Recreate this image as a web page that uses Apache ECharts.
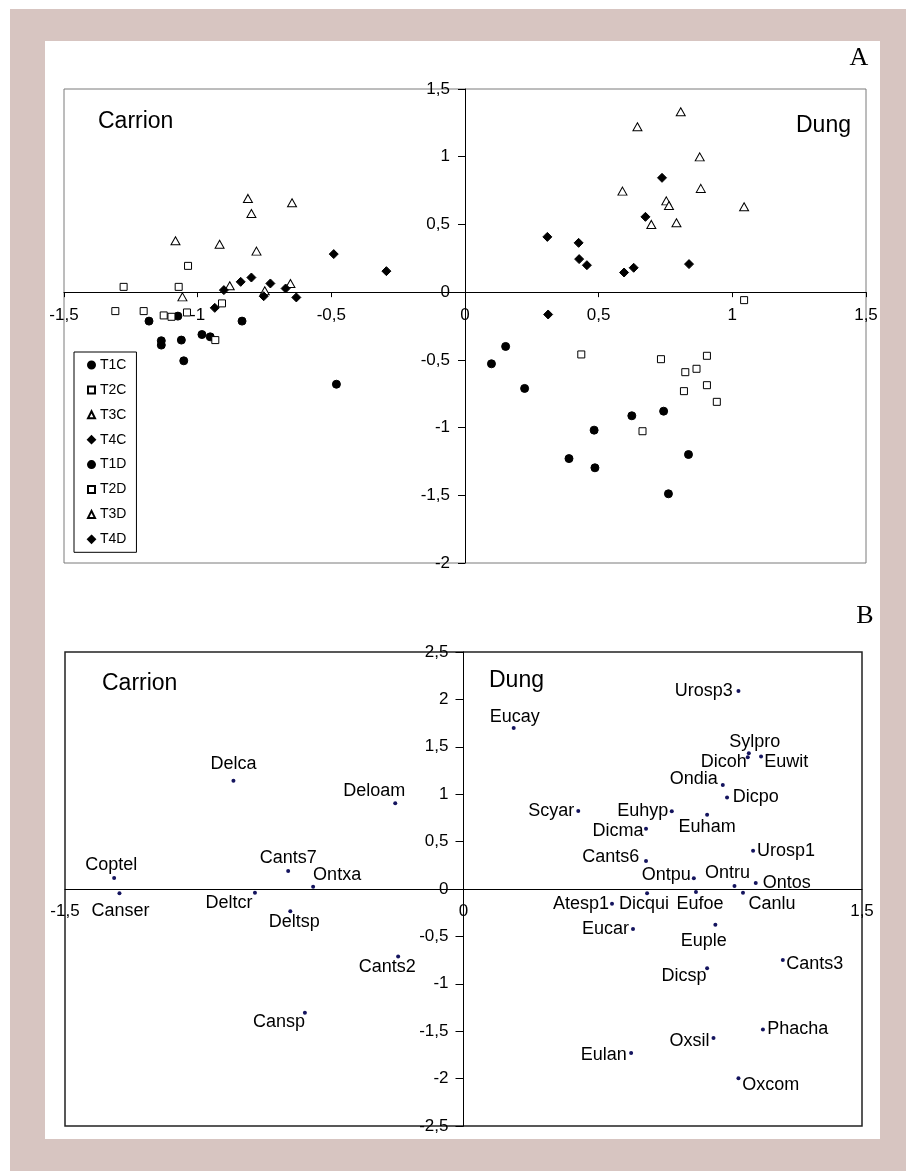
<!DOCTYPE html>
<html>
<head>
<meta charset="utf-8">
<script src="https://cdn.jsdelivr.net/npm/echarts@6/dist/echarts.min.js"></script>
<style>
  html, body { margin: 0; padding: 0; background: #ffffff; }
  #frame { position: absolute; left: 10px; top: 9px; width: 896px; height: 1162px; background: #d7c5c1; }
  #sheet { position: absolute; left: 45px; top: 41px; width: 835px; height: 1098px; background: #ffffff; }
  #chart { position: absolute; left: 0; top: 0; width: 906px; height: 1171px; }
</style>
</head>
<body>
<div id="frame"></div>
<div id="sheet"></div>
<div id="chart"></div>
<script>
// ---------- Panel A: sample scores (axis 1, axis 2) by period T1–T4, carrion (C) and dung (D) ----------
const t1c = [[-1.182,-0.214],[-1.074,-0.177],[-1.136,-0.359],[-1.136,-0.391],[-1.061,-0.354],[-0.984,-0.313],[-0.953,-0.330],[-0.834,-0.214],[-1.052,-0.507],[-0.481,-0.680]];
const t2c = [[-1.036,0.194],[-1.277,0.039],[-1.071,0.039],[-1.308,-0.140],[-1.202,-0.140],[-1.127,-0.172],[-1.098,-0.182],[-1.040,-0.150],[-0.909,-0.083],[-0.934,-0.354]];
const t3c = [[-0.812,0.692],[-0.799,0.581],[-0.647,0.660],[-1.083,0.379],[-0.918,0.354],[-0.780,0.303],[-0.880,0.047],[-0.653,0.064],[-1.057,-0.035],[-0.749,0.010]];
const t4c = [[-0.491,0.281],[-0.294,0.155],[-0.799,0.108],[-0.839,0.076],[-0.728,0.064],[-0.902,0.015],[-0.671,0.027],[-0.753,-0.030],[-0.631,-0.039],[-0.936,-0.116]];
const t1d = [[0.152,-0.401],[0.099,-0.529],[0.223,-0.711],[0.624,-0.913],[0.743,-0.879],[0.483,-1.019],[0.389,-1.229],[0.486,-1.297],[0.836,-1.199],[0.761,-1.489]];
const t2d = [[1.044,-0.059],[0.435,-0.460],[0.733,-0.495],[0.905,-0.470],[0.866,-0.566],[0.824,-0.591],[0.905,-0.687],[0.819,-0.731],[0.942,-0.810],[0.664,-1.027]];
const t3d = [[0.807,1.332],[0.645,1.221],[0.878,0.999],[0.589,0.746],[0.882,0.766],[0.753,0.674],[0.763,0.640],[1.044,0.630],[0.697,0.500],[0.791,0.512]];
const t4d = [[0.737,0.844],[0.675,0.556],[0.308,0.408],[0.425,0.364],[0.427,0.244],[0.456,0.199],[0.595,0.145],[0.631,0.180],[0.838,0.207],[0.311,-0.165]];

const groupNames = ['T1C','T2C','T3C','T4C','T1D','T2D','T3D','T4D'];
const groupData  = [t1c, t2c, t3c, t4c, t1d, t2d, t3d, t4d];

// ---------- Panel B: species scores ----------
const speciesNames = ['Coptel','Canser','Delca','Deloam','Cants7','Ontxa','Deltcr','Deltsp','Cants2','Cansp',
  'Eucay','Urosp3','Sylpro','Dicoh','Euwit','Ondia','Dicpo','Scyar','Euhyp','Euham','Dicma','Urosp1','Cants6',
  'Ontpu','Ontru','Ontos','Canlu','Atesp1','Dicqui','Eufoe','Eucar','Euple','Cants3','Dicsp','Phacha','Oxsil','Eulan','Oxcom'];
const speciesX = [-1.315,-1.295,-0.866,-0.257,-0.660,-0.566,-0.785,-0.652,-0.246,-0.597,
  0.189,1.035,1.074,1.070,1.120,0.976,0.992,0.432,0.784,0.917,0.687,1.090,0.687,
  0.867,1.020,1.100,1.052,0.559,0.691,0.875,0.638,0.948,1.202,0.917,1.127,0.941,0.631,1.035];
const speciesY = [0.115,-0.046,1.142,0.904,0.190,0.025,-0.039,-0.234,-0.713,-1.305,
  1.699,2.088,1.433,1.390,1.397,1.096,0.965,0.823,0.819,0.784,0.635,0.404,0.295,
  0.114,0.032,0.064,-0.039,-0.156,-0.046,-0.032,-0.422,-0.376,-0.748,-0.837,-1.482,-1.571,-1.731,-1.997];

// ---------- Axis ticks ----------
const ticksAX = [-1.5,-1,-0.5,0,0.5,1,1.5];
const labelsAX = ['-1,5','-1','-0,5','0','0,5','1','1,5'];
const ticksAY = [-2,-1.5,-1,-0.5,0,0.5,1,1.5];
const labelsAY = ['-2','-1,5','-1','-0,5','0','0,5','1','1,5'];
const ticksBX = [-1.5,0,1.5];
const labelsBX = ['-1,5','0','1,5'];
const ticksBY = [-2.5,-2,-1.5,-1,-0.5,0,0.5,1,1.5,2,2.5];
const labelsBY = ['-2,5','-2','-1,5','-1','-0,5','0','0,5','1','1,5','2','2,5'];

// ---------- Styling ----------
const FONT = '"Liberation Sans", Arial, sans-serif';
const SERIF = '"Liberation Serif", "Times New Roman", serif';

// plot boxes
const boxA = { left: 64, top: 89, width: 802, height: 474 };
const boxB = { left: 65, top: 652, width: 797, height: 474 };

// marker look for each period (same for carrion and dung)
const markerStyle = {
  T1: { symbol: 'circle',   size: 8,      fill: '#000' },
  T2: { symbol: 'rect',     size: 7,      fill: '#fff' },
  T3: { symbol: 'triangle', size: [9, 8], fill: '#fff' },
  T4: { symbol: 'diamond',  size: 9,      fill: '#000' }
};

// where each species label sits relative to its dot: [side, dx, dy]
const labelPlace = {
  Coptel: ['top', -3, -1.9], Canser: ['bottom', 1, 6.4], Delca: ['top', 0, -5.9], Deloam: ['top', -21, -1.5],
  Cants7: ['top', 0, -1.9], Ontxa: ['top', 24, -0.2], Deltcr: ['bottom', -26, -1], Deltsp: ['bottom', 4, -0.3],
  Cants2: ['bottom', -11, -0.3], Cansp: ['bottom', -26, -2],
  Eucay: ['top', 1, -0.2], Urosp3: ['left', -3.6, 0], Sylpro: ['top', 6, -0.2], Dicoh: ['left', 1, 5],
  Euwit: ['right', 1.3, 5], Ondia: ['left', -3, -6], Dicpo: ['right', 3.7, 0], Scyar: ['left', -2, 0],
  Euhyp: ['left', -1.5, 0], Euham: ['bottom', 0, 1.4], Dicma: ['left', -0.5, 2], Urosp1: ['right', 2, 0],
  Cants6: ['left', -4.7, -4], Ontpu: ['left', -1, -3], Ontru: ['top', -7, -1.9], Ontos: ['right', 5, 0],
  Canlu: ['bottom', 29, 0.7], Atesp1: ['left', -1, 0], Dicqui: ['bottom', -3, -0.6], Eufoe: ['bottom', 4, 0.7],
  Eucar: ['left', -2, 0], Euple: ['bottom', -11.5, 5.4], Cants3: ['right', 1.3, 4], Dicsp: ['bottom', -23, -3],
  Phacha: ['right', 2.3, 0], Oxsil: ['left', -2, 3], Eulan: ['left', -2.3, 2], Oxcom: ['right', 1.7, 7]
};

function lookup(ticks, labels) {
  return function (v) {
    const i = ticks.findIndex(t => Math.abs(t - v) < 1e-6);
    return i >= 0 ? labels[i] : '';
  };
}

const seriesA = groupNames.map((name, i) => {
  const m = markerStyle[name.slice(0, 2)];
  return {
    name: name,
    type: 'scatter',
    xAxisIndex: 0,
    yAxisIndex: 0,
    data: groupData[i],
    symbol: m.symbol,
    symbolSize: m.size,
    itemStyle: { color: m.fill, borderColor: '#000', borderWidth: 1, opacity: 1 },
    emphasis: { disabled: true },
    z: 3
  };
});

const speciesPoints = speciesNames.map((n, i) => {
  const p = labelPlace[n];
  return {
    name: n,
    value: [speciesX[i], speciesY[i]],
    label: { position: p[0], distance: 0, offset: [p[1], p[2]] }
  };
});

const seriesB = {
  name: 'species',
  type: 'scatter',
  xAxisIndex: 1,
  yAxisIndex: 1,
  data: speciesPoints,
  symbol: 'circle',
  symbolSize: 4,
  itemStyle: { color: '#14145e', opacity: 1 },
  label: {
    show: true,
    formatter: '{b}',
    fontFamily: FONT,
    fontSize: 18,
    lineHeight: 18,
    color: '#000',
    opacity: 1
  },
  emphasis: { disabled: true },
  z: 3
};

// Axes cross at the origin: each axis is shifted from its grid edge to the zero line
// of the other axis (offset is negative, i.e. into the plot).
function valueAxis(gridIndex, position, offset, min, max, interval, ticks, labels, tick, margin) {
  return {
    gridIndex: gridIndex,
    type: 'value',
    position: position,
    offset: offset,
    min: min,
    max: max,
    interval: interval,
    axisLine: { onZero: false, lineStyle: { color: '#000', width: 1 } },
    axisTick: tick,
    axisLabel: {
      margin: margin,
      fontFamily: FONT,
      fontSize: 17,
      color: '#000',
      showMinLabel: true,
      showMaxLabel: true,
      formatter: lookup(ticks, labels)
    },
    splitLine: { show: false }
  };
}

// pixel distance from a grid edge to the zero value
const zeroFromLeftA = boxA.width * (0 - -1.5) / 3;
const zeroFromBottomA = boxA.height * (0 - -2) / 3.5;
const zeroFromLeftB = boxB.width * (0 - -1.5) / 3;
const zeroFromBottomB = boxB.height * (0 - -2.5) / 5;

const chart = echarts.init(document.getElementById('chart'), null, { renderer: 'canvas' });

chart.setOption({
  animation: false,
  backgroundColor: 'transparent',
  grid: [
    Object.assign({ show: true, borderColor: '#7a7a7a', borderWidth: 1, containLabel: false }, boxA),
    Object.assign({ show: true, borderColor: '#222', borderWidth: 1.5, containLabel: false }, boxB)
  ],
  xAxis: [
    valueAxis(0, 'bottom', -zeroFromBottomA, -1.5, 1.5, 0.5, ticksAX, labelsAX, { show: true, length: 5, lineStyle: { color: '#000' } }, 15),
    valueAxis(1, 'bottom', -zeroFromBottomB, -1.5, 1.5, 1.5, ticksBX, labelsBX, { show: false }, 14)
  ],
  yAxis: [
    valueAxis(0, 'left', -zeroFromLeftA, -2, 1.5, 0.5, ticksAY, labelsAY, { show: true, length: 7, lineStyle: { color: '#000' } }, 15),
    valueAxis(1, 'left', -zeroFromLeftB, -2.5, 2.5, 0.5, ticksBY, labelsBY, { show: true, length: 8, lineStyle: { color: '#000' } }, 15)
  ],
  legend: {
    orient: 'vertical',
    left: 74,
    top: 352,
    data: groupNames,
    itemWidth: 7,
    itemHeight: 7,
    itemGap: 10.9,
    padding: [6, 10, 6, 13],
    borderColor: '#000',
    borderWidth: 1,
    borderRadius: 0,
    backgroundColor: '#fff',
    selectedMode: false,
    textStyle: { fontFamily: FONT, fontSize: 14, lineHeight: 14, color: '#000' }
  },
  graphic: [
    { type: 'text', x: 859, y: 45, style: { text: 'A', fontFamily: SERIF, fontSize: 26, fill: '#000', textAlign: 'center', textVerticalAlign: 'top' } },
    { type: 'text', x: 865, y: 603, style: { text: 'B', fontFamily: SERIF, fontSize: 26, fill: '#000', textAlign: 'center', textVerticalAlign: 'top' } },
    { type: 'text', x: 98, y: 110, style: { text: 'Carrion', fontFamily: FONT, fontSize: 23, lineHeight: 23, fill: '#000', textAlign: 'left', textVerticalAlign: 'top' } },
    { type: 'text', x: 796, y: 114, style: { text: 'Dung', fontFamily: FONT, fontSize: 23, lineHeight: 23, fill: '#000', textAlign: 'left', textVerticalAlign: 'top' } },
    { type: 'text', x: 102, y: 672, style: { text: 'Carrion', fontFamily: FONT, fontSize: 23, lineHeight: 23, fill: '#000', textAlign: 'left', textVerticalAlign: 'top' } },
    { type: 'text', x: 489, y: 669, style: { text: 'Dung', fontFamily: FONT, fontSize: 23, lineHeight: 23, fill: '#000', textAlign: 'left', textVerticalAlign: 'top' } }
  ],
  series: seriesA.concat([seriesB])
});
</script>
</body>
</html>
